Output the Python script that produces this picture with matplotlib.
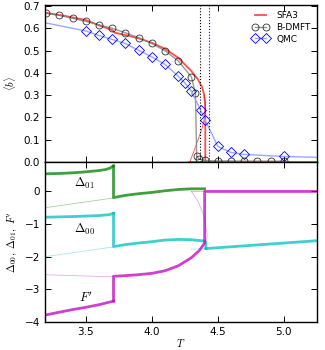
import numpy as np
import matplotlib
matplotlib.use('Agg')
import matplotlib.pyplot as plt

plt.rcParams['mathtext.fontset'] = 'cm'
plt.rcParams['font.size'] = 7.5

# ---- top panel data: <b> vs T
T_bd = [3.2, 3.3, 3.4, 3.5, 3.6, 3.7, 3.8, 3.9, 4.0, 4.1, 4.2, 4.3, 4.33, 4.34,
        4.36, 4.40, 4.5, 4.6, 4.7, 4.8, 4.9, 5.0]
b_bd = [0.667, 0.658, 0.645, 0.631, 0.616, 0.600, 0.580, 0.558, 0.532, 0.499,
        0.454, 0.382, 0.31, 0.025, 0.013, 0.007, 0.005, 0.005, 0.004, 0.004,
        0.004, 0.004]

T_qmc = [3.19, 3.5, 3.6, 3.7, 3.8, 3.9, 4.0, 4.1, 4.2, 4.25, 4.3, 4.37, 4.405,
         4.5, 4.6, 4.7, 5.0, 5.25]
b_qmc = [0.625, 0.588, 0.568, 0.550, 0.532, 0.501, 0.472, 0.438, 0.385, 0.355,
         0.318, 0.232, 0.187, 0.070, 0.043, 0.034, 0.025, 0.021]

T_sfa = [3.19, 3.3, 3.4, 3.5, 3.6, 3.7, 3.72, 3.8, 3.9, 4.0, 4.1, 4.2, 4.3,
         4.35, 4.38, 4.395, 4.403, 4.405, 4.405]
b_sfa = [0.670, 0.660, 0.649, 0.637, 0.613, 0.592, 0.580, 0.570, 0.555, 0.535,
         0.508, 0.468, 0.408, 0.370, 0.337, 0.305, 0.26, 0.2, 0.0]
T_sfa_zero = [4.28, 5.25]
b_sfa_zero = [0.0, 0.0]
T_sfa_unst = [4.288, 4.30, 4.32, 4.35, 4.38, 4.40, 4.408, 4.40]
b_sfa_unst = [0.0, 0.02, 0.05, 0.10, 0.15, 0.20, 0.25, 0.30]

T_c_bd = 4.364
T_c_qmc = 4.434

# ---- bottom panel data
T_d01_a = [3.19, 3.3, 3.4, 3.5, 3.6, 3.65, 3.68, 3.71]
d01_a = [0.54, 0.55, 0.57, 0.60, 0.64, 0.67, 0.71, 0.78]
T_d01_b = [3.71, 3.71, 3.8, 3.9, 4.0, 4.1, 4.2, 4.3, 4.4]
d01_b = [0.78, -0.19, -0.12, -0.07, -0.03, 0.02, 0.06, 0.08, 0.08]
T_d01_thin = [3.19, 3.45, 3.71]
d01_thin = [-0.50, -0.35, -0.20]

T_d00_a = [3.19, 3.4, 3.6, 3.68, 3.71]
d00_a = [-0.79, -0.77, -0.74, -0.71, -0.67]
T_d00_b = [3.71, 3.71, 3.8, 3.9, 4.0, 4.1, 4.2, 4.3, 4.4, 4.41, 4.41]
d00_b = [-0.67, -1.69, -1.63, -1.58, -1.54, -1.49, -1.47, -1.48, -1.52, -1.56, -1.75]
T_d00_c = [4.41, 5.25]
d00_c = [-1.75, -1.51]
T_d00_thin = [3.19, 3.45, 3.71]
d00_thin = [-2.0, -1.85, -1.70]
T_d00_thin2 = [4.30, 4.41]
d00_thin2 = [-1.77, -1.75]

T_F_a = [3.19, 3.3, 3.4, 3.5, 3.6, 3.71]
F_a = [-3.79, -3.70, -3.62, -3.55, -3.47, -3.36]
T_F_b = [3.71, 3.71, 3.8, 3.9, 4.0, 4.1, 4.2, 4.3, 4.36, 4.39, 4.40, 4.40, 5.25]
F_b = [-3.36, -2.60, -2.58, -2.55, -2.51, -2.43, -2.28, -2.03, -1.81, -1.64,
       -1.58, 0.0, 0.0]
T_F_thin = [3.19, 3.4, 3.6, 3.71]
F_thin = [-2.55, -2.58, -2.60, -2.60]
T_F_unst = [4.30, 4.35, 4.39, 4.41, 4.42, 4.41, 4.40]
F_unst = [0.0, -0.3, -0.7, -1.1, -1.35, -1.5, -1.58]
T_zero_thin = [4.30, 4.40]
zero_thin = [0.0, 0.0]

fig = plt.figure(figsize=(3.25, 3.5), dpi=100)
ax1 = fig.add_axes([0.138, 0.537, 0.837, 0.449])
ax2 = fig.add_axes([0.138, 0.080, 0.837, 0.457], sharex=ax1)

ax1.plot(T_sfa, b_sfa, color='red', lw=1.3, alpha=0.7, label='SFA3')
ax1.plot(T_sfa_zero, b_sfa_zero, color='red', lw=1.8, alpha=0.7)
ax1.plot(T_sfa_unst, b_sfa_unst, color='red', lw=0.6, alpha=0.7)
ax1.plot(T_bd, b_bd, 'o-', color='gray', lw=1, alpha=0.8, mfc='none',
         mec='black', ms=5, mew=0.6, label='B-DMFT')
ax1.plot(T_qmc, b_qmc, 'D-', color='#9aa8ff', lw=1, mfc='none', mec='blue',
         ms=5, mew=0.6, markevery=list(range(1, len(T_qmc) - 1)), label='QMC')
ax1.axvline(T_c_bd, color='black', ls=':', lw=0.8)
ax1.axvline(T_c_qmc, color='blue', ls=':', lw=0.8)
ax1.set_ylim(0, 0.705)
ax1.set_yticks(np.arange(0, 0.71, 0.1))
ax1.set_ylabel(r'$\langle b \rangle$')
ax1.legend(loc='upper right', frameon=False, numpoints=2, fontsize=6.5,
           handlelength=1.8, borderaxespad=0.3, labelspacing=0.3)
plt.setp(ax1.get_xticklabels(), visible=False)

ax2.plot(T_d01_thin, d01_thin, color='green', lw=0.6, alpha=0.35)
ax2.plot(T_d00_thin, d00_thin, color='c', lw=0.6, alpha=0.35)
ax2.plot(T_d00_thin2, d00_thin2, color='c', lw=0.6, alpha=0.35)
ax2.plot(T_F_thin, F_thin, color='m', lw=0.6, alpha=0.35)
ax2.plot(T_F_unst, F_unst, color='m', lw=0.6, alpha=0.35)
ax2.plot(T_zero_thin, zero_thin, color='gray', lw=0.6, alpha=0.5)
ax2.plot(T_d01_a, d01_a, color='green', lw=2, alpha=0.75)
ax2.plot(T_d01_b, d01_b, color='green', lw=2, alpha=0.75)
ax2.plot(T_d00_a, d00_a, color='c', lw=2, alpha=0.75)
ax2.plot(T_d00_b, d00_b, color='c', lw=2, alpha=0.75)
ax2.plot(T_d00_c, d00_c, color='c', lw=2, alpha=0.75)
ax2.plot(T_F_a, F_a, color='m', lw=2, alpha=0.75)
ax2.plot(T_F_b, F_b, color='m', lw=2, alpha=0.75)
ax2.text(3.49, 0.26, r'$\Delta_{01}$', ha='center', va='center', fontsize=9)
ax2.text(3.49, -1.17, r'$\Delta_{00}$', ha='center', va='center', fontsize=9)
ax2.text(3.5, -3.25, r"$F'$", ha='center', va='center', fontsize=9)
ax2.set_ylim(-4, 0.9)
ax2.set_yticks([-4, -3, -2, -1, 0])
ax2.set_yticklabels(['\u22124', '\u22123', '\u22122', '\u22121', '0'])
ax2.set_xlim(3.19, 5.25)
ax2.set_xticks([3.5, 4.0, 4.5, 5.0])
ax2.set_xlabel(r'$T$', labelpad=0)
ax2.set_ylabel(r"$\Delta_{00},\ \Delta_{01},\ F'$")

for ax in (ax1, ax2):
    ax.tick_params(direction='in', top=True, right=True, length=4, width=0.7)
    for s in ax.spines.values():
        s.set_linewidth(1.0)

fig.savefig('out.png', dpi=100)
